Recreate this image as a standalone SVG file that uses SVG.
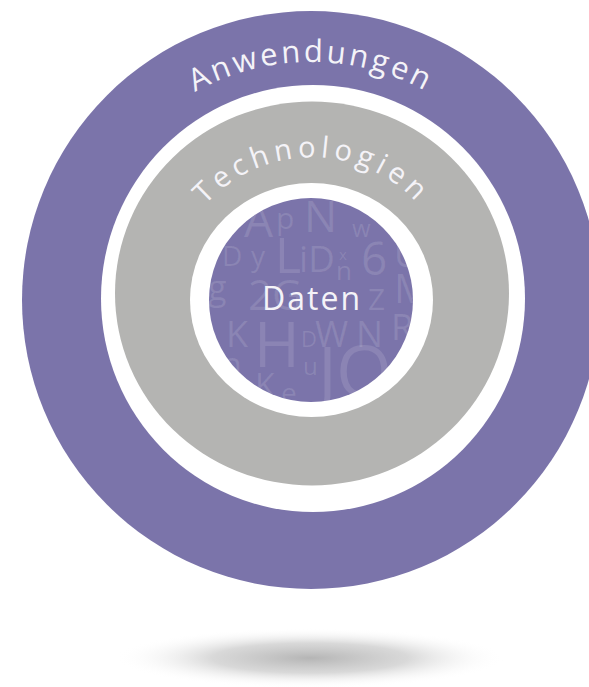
<svg xmlns="http://www.w3.org/2000/svg" width="589" height="687" viewBox="0 0 589 687">
  <style>
    .purple { fill: #7b74aa; }
    .ring { fill: #ffffff; }
    .grey { fill: #b4b4b2; }
    .label { font-family: "Open Sans", "Noto Sans", "Liberation Sans", sans-serif; fill: #f4f3f8; }
    .bg { font-family: "Open Sans", "Noto Sans", "Liberation Sans", sans-serif; fill: #ffffff; fill-opacity: 0.12; }
  </style>
  <defs>
    <radialGradient id="shadowGrad" cx="0.5" cy="0.5" r="0.5">
      <stop offset="0" stop-color="#b5b5b5" stop-opacity="1"/>
      <stop offset="0.5" stop-color="#cfcfcf" stop-opacity="0.8"/>
      <stop offset="1" stop-color="#ffffff" stop-opacity="0"/>
    </radialGradient>
    <clipPath id="innerClip">
      <circle cx="311" cy="300" r="102"/>
    </clipPath>
    <path id="arcOuter" d="M76.6,258.7 A238,238 0 0 1 545.4,258.7"/>
    <path id="arcMid" d="M171.2,275.2 A143,143 0 0 1 452.8,275.2"/>
  </defs>

  <rect width="589" height="687" fill="#ffffff"/>

  <!-- floor shadow -->
  <ellipse cx="310" cy="658" rx="195" ry="30" fill="url(#shadowGrad)"/>

  <g id="anwendungen">
    <ellipse class="purple" cx="311" cy="300" rx="289" ry="289"/>
    <text class="label" font-size="31" letter-spacing="3" text-anchor="middle">
      <textPath href="#arcOuter" startOffset="50%">Anwendungen</textPath>
    </text>
  </g>

  <g id="technologien">
    <ellipse class="ring" cx="313" cy="298.5" rx="212" ry="213.5"/>
    <ellipse class="grey" cx="312" cy="293.5" rx="197" ry="192"/>
    <text class="label" font-size="29" letter-spacing="5" text-anchor="middle">
      <textPath href="#arcMid" startOffset="50%">Technologien</textPath>
    </text>
  </g>

  <g id="daten">
    <ellipse class="ring" cx="311.5" cy="300" rx="121.5" ry="117"/>
    <circle class="purple" cx="311" cy="300" r="102"/>
    <g clip-path="url(#innerClip)">
      <text class="bg" x="244" y="237" font-size="46">A</text>
      <text class="bg" x="276" y="229" font-size="30">p</text>
      <text class="bg" x="304" y="232" font-size="44">N</text>
      <text class="bg" x="352" y="237" font-size="24">w</text>
      <text class="bg" x="222" y="266" font-size="28">D</text>
      <text class="bg" x="251" y="266" font-size="28">y</text>
      <text class="bg" x="275" y="273" font-size="50">L</text>
      <text class="bg" x="299" y="272" font-size="36">i</text>
      <text class="bg" x="308" y="272" font-size="37">D</text>
      <text class="bg" x="339" y="260" font-size="15">x</text>
      <text class="bg" x="336" y="280" font-size="26">n</text>
      <text class="bg" x="361" y="275" font-size="46">6</text>
      <text class="bg" x="394" y="267" font-size="36">U</text>
      <text class="bg" x="208" y="300" font-size="34">g</text>
      <text class="bg" x="248" y="310" font-size="42">2G</text>
      <text class="bg" x="368" y="310" font-size="30">Z</text>
      <text class="bg" x="394" y="303" font-size="40">M</text>
      <text class="bg" x="226" y="347" font-size="36">K</text>
      <text class="bg" x="254" y="367" font-size="62">H</text>
      <text class="bg" x="301" y="347" font-size="22">D</text>
      <text class="bg" x="315" y="347" font-size="36">W</text>
      <text class="bg" x="356" y="347" font-size="36">N</text>
      <text class="bg" x="391" y="340" font-size="36">R</text>
      <text class="bg" x="221" y="377" font-size="34">n</text>
      <text class="bg" x="303" y="375" font-size="24">u</text>
      <text class="bg" x="318" y="397" font-size="70">J</text>
      <text class="bg" x="336" y="397" font-size="72">O</text>
      <text class="bg" x="402" y="363" font-size="28">i</text>
      <text class="bg" x="255" y="397" font-size="32">K</text>
      <text class="bg" x="281" y="403" font-size="28">e</text>
    </g>
    <text class="label" x="312" y="310" font-size="32" letter-spacing="2" text-anchor="middle">Daten</text>
  </g>
</svg>
